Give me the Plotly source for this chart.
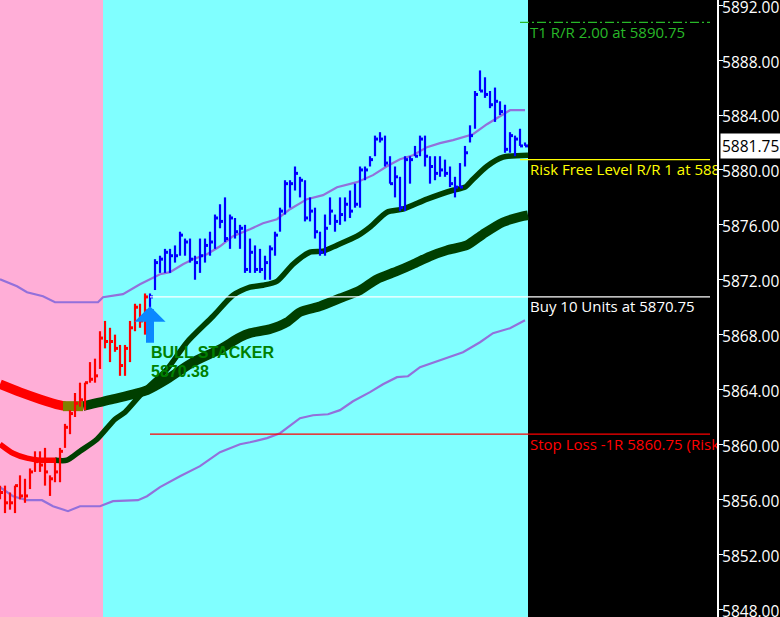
import plotly.graph_objects as go

# ---- price bars (one per bar index) ----
red_high = [5857.0,5857.0,5856.5,5857.0,5857.75,5857.5,5858.25,5859.5,5859.5,5859.75,
            5857.75,5859.0,5859.75,5861.5,5862.5,5863.75,5864.5,5864.5,5866.0,5866.25,
            5868.25,5869.0,5868.5,5868.0,5867.25,5867.25,5869.0,5870.25,5870.25,5871.0]
red_low = [5856.0,5855.0,5855.25,5855.0,5856.0,5855.75,5856.75,5858.0,5858.0,5857.0,
           5856.25,5857.25,5857.25,5859.75,5860.75,5862.0,5862.75,5862.5,5864.5,5864.5,
           5865.5,5867.0,5866.0,5866.75,5865.0,5865.0,5866.0,5868.25,5868.5,5868.0]
red_close = [5856.5,5855.75,5855.75,5857.0,5856.25,5856.25,5858.0,5858.75,5858.5,5858.0,
             5857.5,5858.0,5859.5,5861.25,5862.25,5863.0,5863.25,5864.5,5864.75,5865.0,
             5867.75,5867.5,5867.5,5867.0,5865.75,5867.0,5868.5,5870.0,5869.0,5870.75]

blue_high = [5871.0,5873.5,5873.75,5874.25,5874.25,5874.5,5875.5,5875.0,5875.0,5873.75,
             5875.0,5875.0,5875.5,5876.75,5877.5,5878.0,5876.75,5876.5,5876.0,5876.0,
             5875.0,5874.5,5874.25,5873.75,5874.5,5875.5,5877.25,5879.25,5879.25,5880.25,
             5879.5,5879.25,5878.0,5877.25,5875.5,5876.75,5878.0,5876.75,5878.0,5878.0,
             5878.5,5879.0,5880.25,5880.25,5881.0,5882.5,5882.75,5882.5,5881.0,5880.25,
             5879.5,5881.0,5881.0,5881.75,5882.5,5882.5,5881.0,5881.0,5881.0,5880.75,
             5880.25,5879.5,5880.5,5881.75,5883.25,5885.75,5887.25,5886.75,5885.75,5886.0,
             5885.0,5884.75,5882.75,5882.5,5883.0,5882.0]
blue_low = [5870.0,5871.25,5872.5,5872.5,5872.5,5873.25,5873.75,5873.75,5873.25,5872.0,
            5872.5,5873.25,5873.75,5874.25,5875.75,5874.75,5874.25,5875.0,5874.25,5872.5,
            5872.5,5872.5,5872.5,5872.0,5872.0,5873.75,5875.5,5876.75,5877.25,5878.5,
            5878.0,5876.25,5876.25,5875.0,5873.75,5873.75,5876.0,5875.5,5876.0,5876.25,
            5876.5,5877.25,5877.25,5879.25,5880.25,5881.0,5882.0,5880.25,5879.0,5878.0,
            5877.0,5877.0,5879.0,5881.0,5881.0,5880.25,5879.0,5879.25,5879.5,5879.5,
            5878.75,5878.0,5878.75,5880.25,5882.0,5883.0,5885.75,5885.25,5884.5,5883.5,
            5884.0,5881.25,5881.25,5881.0,5881.75,5881.75]
blue_close = [5870.75,5873.25,5873.5,5874.0,5873.75,5873.75,5875.25,5874.75,5873.5,5873.25,
              5873.75,5874.5,5874.75,5876.5,5876.25,5875.0,5876.5,5875.5,5875.75,5872.75,
              5874.0,5872.75,5872.75,5873.25,5874.25,5875.25,5877.0,5879.0,5879.0,5879.75,
              5879.25,5876.5,5877.0,5875.5,5874.0,5875.75,5877.0,5876.25,5876.75,5877.5,
              5877.0,5877.5,5880.0,5880.0,5880.75,5882.25,5882.25,5880.5,5879.0,5879.5,
              5877.25,5880.75,5880.75,5881.0,5882.25,5881.0,5880.25,5879.75,5880.0,5879.75,
              5879.0,5878.75,5878.75,5881.25,5882.5,5885.5,5885.75,5885.5,5884.75,5885.0,
              5884.25,5881.5,5882.5,5882.25,5881.75,5881.75]

# ---- moving-average ribbons: bar positions and prices ----
fast_red_x = [0,2.6,5.4,8,10.6,11.4]
fast_red_y = [5860.02,5859.36,5859.0,5858.85,5858.85,5858.85]
fast_green_x = [11,13.4,16,19.4,23,25,28.6,33.4,37.4,42.6,46.6,50,52.6,55.4,58.6,62,64.6,67.4,71.4,74,77.4,80.6,85.4,90.6,93,94.6,97.4,100.6,105.6]
fast_green_y = [5858.85,5858.85,5859.51,5860.38,5861.84,5862.35,5863.81,5865.48,5867.45,5869.34,5870.87,5871.46,5871.6,5871.89,5873.13,5874.01,5874.08,5874.52,5875.17,5875.83,5876.92,5877.14,5877.87,5878.52,5878.74,5879.32,5880.27,5880.93,5881.07]

slow_red_x = [0,4,8,12,13]
slow_red_y = [5864.39,5863.81,5863.3,5862.86,5862.79]
slow_olive_x = [12.6,16.6]
slow_olive_y = [5862.79,5862.79]
slow_green_x = [16.6,22.6,29.4,33.4,38.6,44,48,50,54,57.4,60,64,68,72,75.4,79.4,82.6,86,89.4,93.4,96.6,100.6,104.6,105.6]
slow_green_y = [5862.79,5863.3,5863.95,5864.75,5865.99,5866.94,5867.81,5868.11,5868.4,5868.91,5869.64,5870.07,5870.65,5871.24,5872.04,5872.62,5873.13,5873.71,5874.15,5874.52,5875.32,5876.19,5876.63,5876.7]

# ---- envelope lines ----
upper_x = [0,3.4,5.4,8.6,11,19.6,20.6,24.6,28,32,34,36.6,38.6,41.4,44,46.6,50,52.6,55.4,58,61.4,64.6,67.4,71.4,74.6,77.4,80,82.6,85.4,88,90.6,93.4,94.6,97.4,100,102,105]
upper_y = [5872.04,5871.53,5871.09,5870.8,5870.36,5870.36,5870.73,5870.95,5871.67,5872.4,5872.55,5873.13,5873.5,5873.86,5874.44,5875.17,5875.68,5876.12,5876.41,5877.14,5877.87,5878.16,5878.74,5879.11,5879.62,5880.27,5880.78,5881.07,5881.66,5881.95,5882.17,5882.46,5882.6,5883.33,5883.91,5884.35,5884.35]
lower_x = [0,2.6,5.4,8.4,10.6,13.6,16,20,22.6,27.6,29.4,32,36,40,44,48,50,53.4,56,60,62.6,65.6,68,70.6,74,76.6,79.4,81.6,84,86.4,90,92.6,96,98.6,102,105]
lower_y = [5856.89,5856.23,5855.94,5855.94,5855.5,5855.14,5855.5,5855.5,5855.87,5855.94,5856.23,5856.89,5857.69,5858.42,5859.44,5860.02,5860.16,5860.46,5860.82,5861.91,5862.13,5862.2,5862.5,5863.15,5863.81,5864.39,5864.9,5864.97,5865.63,5865.92,5866.36,5866.72,5867.45,5868.11,5868.47,5869.05]

# ---- trade levels ----
buy_level = 5870.75
stop_level = 5860.75
risk_free_level = 5880.75
target_level = 5890.75
long_line_span = [30, 142]
short_line_span = [104, 142]
level_text_x = 106
label_gap = 0.3
buy_text = "Buy 10 Units at 5870.75"
stop_text = "Stop Loss -1R 5860.75 (Risk"
risk_free_text = "Risk Free Level R/R 1 at 5880.75"
target_text = "T1 R/R 2.00 at 5890.75"

# ---- background regions (bar positions) ----
pink_span = [0, 20.6]
cyan_span = [20.6, 105.6]

# ---- axis ----
tick_values = [5848,5852,5856,5860,5864,5868,5872,5876,5880,5884,5888,5892]
last_price = 5881.75
signal_bar = 30
signal_price = 5870.07
signal_text = "BULL STACKER"
signal_value = "5870.38"

FONT = "Open Sans"


def bar_segments(start, highs, lows):
    xs, ys = [], []
    for i, (h, l) in enumerate(zip(highs, lows)):
        xs += [start + i, start + i, None]
        ys += [l, h, None]
    return xs, ys


def close_segments(start, closes):
    xs, ys = [], []
    for i, c in enumerate(closes):
        xs += [start + i, start + i + 0.6, None]
        ys += [c, c, None]
    return xs, ys


fig = go.Figure()


def add_line(x, y, color, width, dash=None, smooth=False):
    line = dict(color=color, width=width, dash=dash)
    if smooth:
        line.update(shape="spline", smoothing=0.7)
    fig.add_trace(go.Scatter(x=x, y=y, mode="lines", hoverinfo="skip", showlegend=False, line=line))


add_line(upper_x, upper_y, "#9370DB", 2.2)
add_line(lower_x, lower_y, "#9370DB", 2.2)
add_line(slow_red_x, slow_red_y, "#FF0000", 9.5, smooth=True)
add_line(slow_green_x, slow_green_y, "#003F00", 9.5, smooth=True)
add_line(slow_olive_x, slow_olive_y, "#808000", 10)
add_line(fast_red_x, fast_red_y, "#FF0000", 5.5, smooth=True)
add_line(fast_green_x, fast_green_y, "#003F00", 5.5, smooth=True)

rx, ry = bar_segments(0, red_high, red_low)
add_line(rx, ry, "#FF0000", 2.2)
rx, ry = close_segments(0, red_close)
add_line(rx, ry, "#FF0000", 3)
bx, by = bar_segments(len(red_high), blue_high, blue_low)
add_line(bx, by, "#0000FF", 2.2)
bx, by = close_segments(len(red_high), blue_close)
add_line(bx, by, "#0000FF", 3)

add_line(long_line_span, [buy_level, buy_level], "#FFFFFF", 1.2)
add_line(long_line_span, [stop_level, stop_level], "#FF0000", 1.2)
add_line(short_line_span, [risk_free_level, risk_free_level], "#FFFF00", 1.2)
add_line(short_line_span, [target_level, target_level], "#28B828", 1.2, "9px,3px,2px,3px")

for text, level, color in [(target_text, target_level, "#28B828"),
                           (risk_free_text, risk_free_level, "#FFFF00"),
                           (buy_text, buy_level, "#FFFFFF"),
                           (stop_text, stop_level, "#FF0000")]:
    fig.add_trace(go.Scatter(x=[level_text_x], y=[level - label_gap], mode="text", text=[text],
                             textposition="bottom right", hoverinfo="skip", showlegend=False,
                             cliponaxis=True, textfont=dict(family=FONT, size=15, color=color)))

fig.add_shape(type="rect", xref="x", yref="paper", x0=pink_span[0], x1=pink_span[1], y0=0, y1=1,
              fillcolor="#FFAED7", line_width=0, layer="below")
fig.add_shape(type="rect", xref="x", yref="paper", x0=cyan_span[0], x1=cyan_span[1], y0=0, y1=1,
              fillcolor="#80FFFF", line_width=0, layer="below")

fig.add_annotation(x=signal_bar, y=signal_price, ax=0, ay=38, axref="pixel", ayref="pixel",
                   text="", showarrow=True, arrowhead=1, arrowsize=0.65, arrowwidth=8,
                   arrowcolor="#0A88FF", standoff=0)
fig.add_annotation(x=signal_bar, y=5866.7, text=signal_text, showarrow=False, xanchor="left",
                   xshift=-1, font=dict(family="Liberation Sans", size=16, color="#008000", weight="bold"))
fig.add_annotation(x=signal_bar, y=5865.3, text=signal_value, showarrow=False, xanchor="left",
                   xshift=-1, font=dict(family="Liberation Sans", size=16, color="#008000", weight="bold"))
fig.add_annotation(xref="paper", x=1, y=last_price, text=f"{last_price:.2f}", showarrow=False,
                   xanchor="left", xshift=3, bgcolor="#FFFFFF", borderpad=1,
                   font=dict(family=FONT, size=15.5, color="#000000"))

fig.update_layout(width=780, height=617, margin=dict(l=0, r=63, t=0, b=0), autosize=False,
                  paper_bgcolor="#000000", plot_bgcolor="#000000", showlegend=False)
fig.update_xaxes(range=[0, 143.4], visible=False, showgrid=False, zeroline=False, automargin=False)
fig.update_yaxes(range=[5847.43, 5892.38], side="right", showgrid=False, zeroline=False,
                 automargin=False,
                 tickvals=tick_values, tickformat=".2f", ticks="outside", ticklen=4,
                 ticklabeloverflow="allow", ticklabelstandoff=-4, ticklabelshift=2,
                 tickcolor="#FFFFFF", showline=True, linecolor="#FFFFFF", linewidth=2,
                 tickfont=dict(family=FONT, size=15.5, color="#FFFFFF"))

fig.write_html("out.html", config={"displayModeBar": False},
               post_script="document.body.style.margin='0';document.body.style.background='#000';")
